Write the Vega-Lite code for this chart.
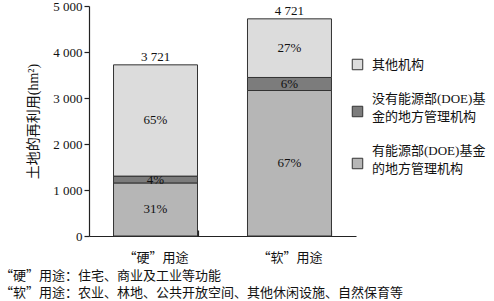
{
  "$schema": "https://vega.github.io/schema/vega-lite/v6.json",
  "width": 267,
  "height": 230,
  "autosize": {"type": "none"},
  "padding": {"left": 89, "top": 6, "right": 138, "bottom": 65},
  "background": "white",
  "config": {
    "locale": {"number": {"decimal": ".", "thousands": " ", "grouping": [3], "currency": ["", ""]}},
    "view": {"stroke": null},
    "font": "Liberation Serif, Noto Sans CJK SC",
    "axis": {"grid": false, "domainColor": "#222", "tickColor": "#222", "labelColor": "#111", "titleColor": "#111", "domainWidth": 1.2, "tickWidth": 1.2}
  },
  "title": {
    "text": ["“硬”用途：住宅、商业及工业等功能", "“软”用途：农业、林地、公共开放空间、其他休闲设施、自然保育等"],
    "orient": "bottom", "anchor": "start", "frame": "group", "dx": -89, "offset": 6,
    "font": "Noto Sans CJK SC", "fontSize": 13, "fontWeight": "normal", "lineHeight": 17, "color": "#111"
  },
  "data": {"values": [
    {"use": "“硬”用途", "agency": "有能源部(DOE)基金的地方管理机构", "value": 1153, "pct": "31%", "rank": 1},
    {"use": "“硬”用途", "agency": "没有能源部(DOE)基金的地方管理机构", "value": 149, "pct": "4%", "rank": 2},
    {"use": "“硬”用途", "agency": "其他机构", "value": 2419, "pct": "65%", "rank": 3},
    {"use": "“软”用途", "agency": "有能源部(DOE)基金的地方管理机构", "value": 3163, "pct": "67%", "rank": 1},
    {"use": "“软”用途", "agency": "没有能源部(DOE)基金的地方管理机构", "value": 283, "pct": "6%", "rank": 2},
    {"use": "“软”用途", "agency": "其他机构", "value": 1275, "pct": "27%", "rank": 3}
  ]},
  "encoding": {
    "x": {
      "field": "use", "type": "nominal", "sort": ["“硬”用途", "“软”用途"],
      "scale": {"paddingInner": 0.373, "paddingOuter": 0.183},
      "axis": {"title": null, "labelAngle": 0, "tickBand": "extent", "tickSize": -6, "labelPadding": 21,
               "labelFont": "Noto Sans CJK SC", "labelFontSize": 13, "labelFontWeight": "normal"}
    }
  },
  "layer": [
    {
      "mark": {"type": "bar", "stroke": "#333", "strokeWidth": 1},
      "encoding": {
        "y": {"field": "value", "type": "quantitative", "stack": "zero",
              "scale": {"domain": [0, 5000]},
              "axis": {"title": "土地的再利用(hm²)", "values": [0, 1000, 2000, 3000, 4000, 5000], "format": ",d",
                       "tickSize": 5, "labelPadding": 2, "labelFontSize": 13, "labelFont": "Liberation Serif",
                       "titleFont": "Liberation Serif, Noto Sans CJK SC", "titleFontSize": 14, "titleFontWeight": "normal", "titlePadding": 12}},
        "color": {
          "field": "agency", "type": "nominal",
          "scale": {"domain": ["其他机构", "没有能源部(DOE)基金的地方管理机构", "有能源部(DOE)基金的地方管理机构"],
                    "range": ["#dcdcdc", "#7c7c7c", "#b6b6b6"]},
          "legend": {
            "title": null, "orient": "none", "legendX": 262, "legendY": 52,
            "symbolType": "square", "symbolSize": 110, "symbolStrokeColor": "#333", "symbolStrokeWidth": 1,
            "labelFont": "Liberation Serif, Noto Sans CJK SC", "labelFontSize": 13, "labelColor": "#111", "labelOffset": 8,
            "labelLimit": 200, "rowPadding": 20,
            "labelExpr": "datum.label == '没有能源部(DOE)基金的地方管理机构' ? ['没有能源部(DOE)基', '金的地方管理机构'] : datum.label == '有能源部(DOE)基金的地方管理机构' ? ['有能源部(DOE)基金', '的地方管理机构'] : datum.label",
            "encode": {"labels": {"update": {"lineHeight": {"value": 18}, "dy": {"signal": "datum.value == '其他机构' ? 0 : -13"}}}}
          }
        },
        "order": {"field": "rank", "type": "quantitative"}
      }
    },
    {
      "transform": [
        {"stack": "value", "groupby": ["use"], "sort": [{"field": "rank", "order": "ascending"}], "as": ["y0", "y1"]},
        {"fold": ["y0", "y1"], "as": ["edge", "pos"]}
      ],
      "mark": {"type": "text", "baseline": "middle", "font": "Liberation Serif", "fontSize": 13, "color": "#111"},
      "encoding": {
        "y": {"aggregate": "mean", "field": "pos", "type": "quantitative", "stack": null},
        "detail": {"field": "agency"},
        "text": {"field": "pct"}
      }
    },
    {
      "mark": {"type": "text", "baseline": "alphabetic", "dy": -4, "font": "Liberation Serif", "fontSize": 13, "color": "#111"},
      "encoding": {
        "y": {"aggregate": "sum", "field": "value", "type": "quantitative"},
        "text": {"aggregate": "sum", "field": "value", "type": "quantitative", "format": ",d"}
      }
    }
  ]
}
